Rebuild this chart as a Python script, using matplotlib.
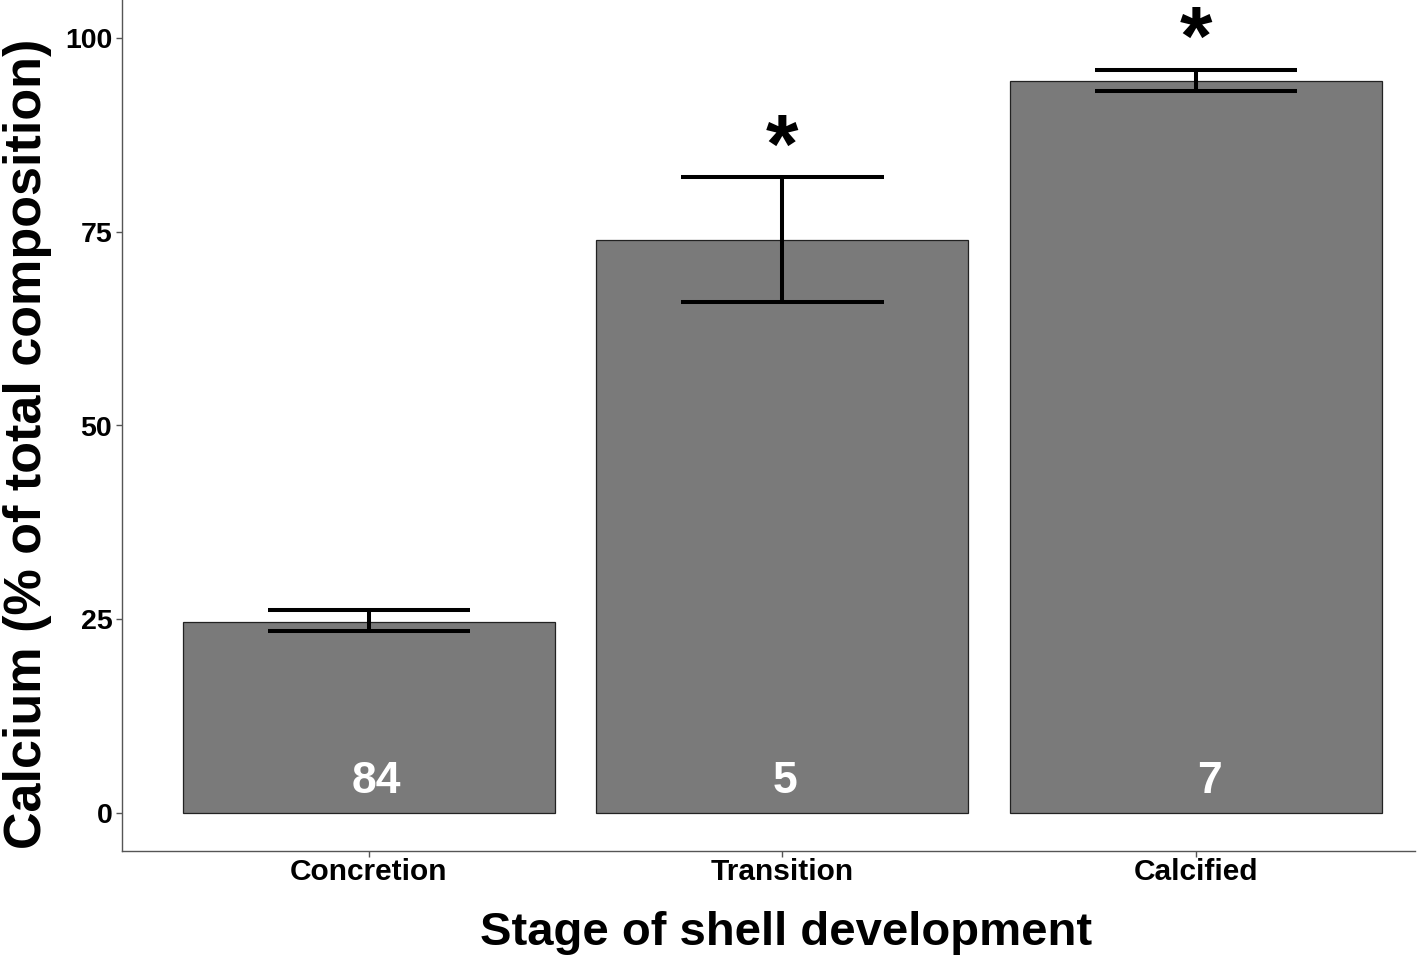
import matplotlib
matplotlib.use("Agg")
import matplotlib.pyplot as plt
import numpy as np

plt.rcParams['font.family'] = ['Liberation Sans', 'DejaVu Sans']

categories = ["Concretion", "Transition", "Calcified"]
means = [24.7, 73.9, 94.5]
err_low = [23.5, 65.9, 93.2]
err_high = [26.2, 82.1, 95.9]
counts = ["84", "5", "7"]
count_x_offset = [0.018, 0.007, 0.032]
signif = ["", "*", "*"]
signif_y = [None, 85.4, 99.4]
yticks = [0, 25, 50, 75, 100]

fig = plt.figure(figsize=(14.17, 9.67), dpi=100)
ax = fig.add_axes([122/1417, 1 - 851/967, (1415-122)/1417, 851/967])

x = np.arange(len(categories))
ax.bar(x, means, width=0.9, color="#7a7a7a", edgecolor="#222222", linewidth=0.9, zorder=2)
ax.vlines(x, err_low, err_high, color="black", linewidth=2.9, zorder=3)
ax.hlines(err_low, x - 0.245, x + 0.245, color="black", linewidth=2.9, zorder=3)
ax.hlines(err_high, x - 0.245, x + 0.245, color="black", linewidth=2.9, zorder=3)

for xi, c, off in zip(x, counts, count_x_offset):
    ax.text(xi + off, 4.1, c, color="white", fontsize=32, fontweight="bold",
            ha="center", va="center", zorder=4)
for xi, s, sy in zip(x, signif, signif_y):
    if s:
        ax.text(xi, sy, s, color="black", fontsize=60, fontweight="bold",
                ha="center", va="center", zorder=4)

ax.set_xlim(-0.597, 2.53)
ax.set_ylim(-4.9, 104.9)
ax.set_xticks(x)
ax.set_xticklabels(categories, fontsize=21.5, fontweight="bold")
ax.set_yticks(yticks)
ax.set_yticklabels([str(t) for t in yticks], fontsize=20.5, fontweight="bold")
for sp in ["top", "right"]:
    ax.spines[sp].set_visible(False)
for sp in ["left", "bottom"]:
    ax.spines[sp].set_color("#555555")
    ax.spines[sp].set_linewidth(1.0)
ax.tick_params(axis="both", colors="#555555", length=4, width=1.0, labelcolor="black", pad=3)
ax.tick_params(axis="x", pad=1)
ax.set_xlabel("Stage of shell development", fontsize=34, fontweight="bold", labelpad=18)
ax.xaxis.label.set_x(0.5135)
ax.set_ylabel("Calcium (% of total composition)", fontsize=37.5, fontweight="bold")
ax.yaxis.set_label_coords(-0.054, 0.479)

fig.savefig("out.png", dpi=100)
